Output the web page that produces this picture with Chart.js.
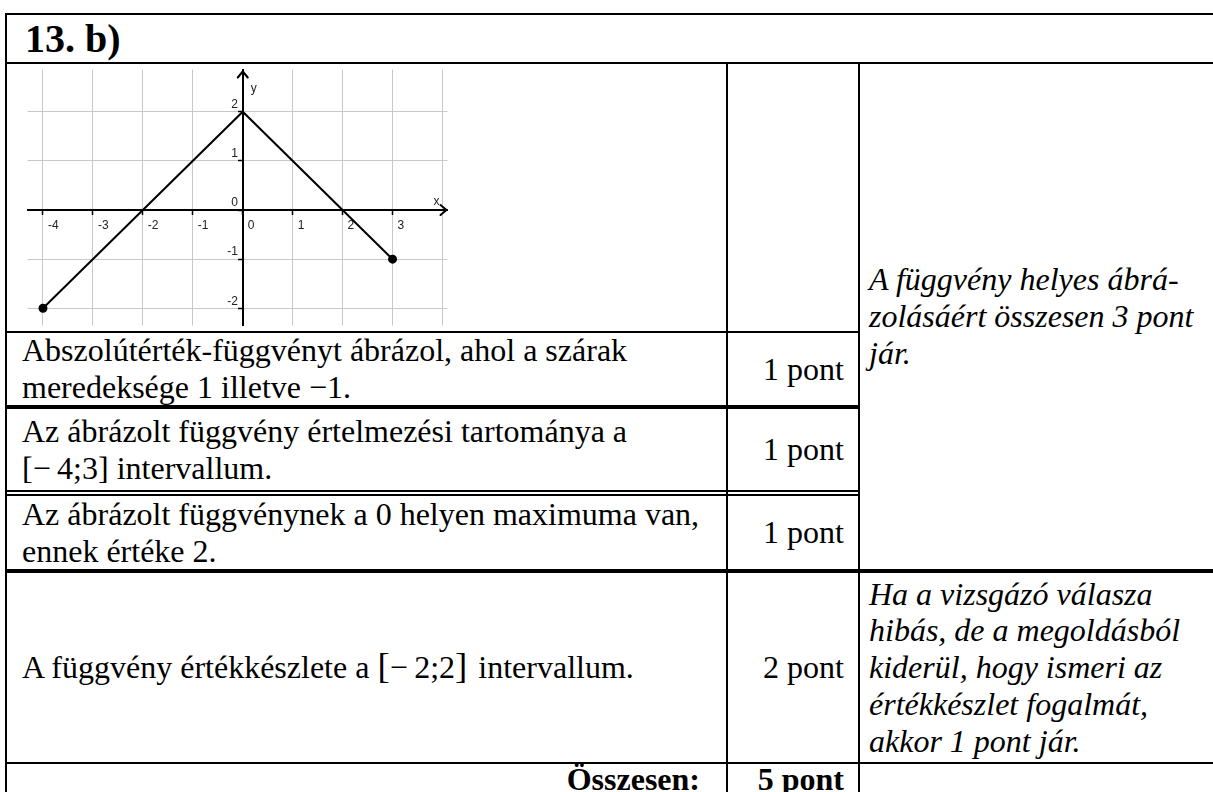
<!DOCTYPE html>
<html lang="hu">
<head>
<meta charset="utf-8">
<title>13. b)</title>
<script src="https://cdn.jsdelivr.net/npm/chart.js@4.4.1/dist/chart.umd.min.js"></script>
<style>
  html, body { margin: 0; padding: 0; background: #fff; }
  body {
    width: 1213px; height: 792px; position: relative; overflow: hidden;
    font-family: "Liberation Serif", "Times New Roman", serif;
    font-size: 32px; line-height: 1.15; color: #000;
  }
  .ln { position: absolute; background: #000; }
  .cell { position: absolute; display: flex; flex-direction: column; justify-content: center; box-sizing: border-box; white-space: nowrap; }
  .c1 { left: 7px; width: 719px; padding-left: 15px; }
  .c2 { left: 728px; width: 130px; padding-right: 14px; align-items: flex-end; }
  .c3 { left: 860px; width: 353px; padding-left: 9px; font-style: italic; }
  .right { align-items: flex-end; padding-right: 26px; }
  .bold { font-weight: bold; }
  .iv { margin: 0 3px 0 8px; }
  .iv .br { font-size: 1.15em; line-height: 0; }
  #head { left: 7px; top: 15px; height: 47px; padding-left: 18px; font-size: 40px; font-weight: bold; }
  #chartBox { position: absolute; left: 22px; top: 64px; width: 431px; height: 267px; }
</style>
</head>
<body>

<!-- table lines -->
<div class="ln" style="left:5px; top:13px; width:1210px; height:2px"></div>
<div class="ln" style="left:5px; top:13px; width:2px; height:779px"></div>
<div class="ln" style="left:5px; top:62px; width:1210px; height:2px"></div>
<div class="ln" style="left:726px; top:62px; width:2px; height:730px"></div>
<div class="ln" style="left:858px; top:62px; width:2px; height:730px"></div>
<div class="ln" style="left:5px; top:331px; width:855px; height:2px"></div>
<div class="ln" style="left:5px; top:405px; width:855px; height:4px"></div>
<div class="ln" style="left:5px; top:490px; width:855px; height:2px"></div>
<div class="ln" style="left:5px; top:494px; width:855px; height:2px"></div>
<div class="ln" style="left:5px; top:569px; width:1210px; height:4px"></div>
<div class="ln" style="left:5px; top:762px; width:1210px; height:2px"></div>

<div class="cell" id="head">13. b)</div>

<div id="chartBox"><canvas id="graph"></canvas></div>

<div class="cell c1" style="top:333px; height:72px">
  <div>Abszolútérték-függvényt ábrázol, ahol a szárak</div>
  <div>meredeksége 1 illetve −1.</div>
</div>
<div class="cell c2" style="top:333px; height:72px">1 pont</div>

<div class="cell c1" style="top:409px; height:81px">
  <div>Az ábrázolt függvény értelmezési tartománya a</div>
  <div>[−&#8201;4;3] intervallum.</div>
</div>
<div class="cell c2" style="top:409px; height:81px">1 pont</div>

<div class="cell c1" style="top:496px; height:73px">
  <div>Az ábrázolt függvénynek a 0 helyen maximuma van,</div>
  <div>ennek értéke 2.</div>
</div>
<div class="cell c2" style="top:496px; height:73px">1 pont</div>

<div class="cell c3" style="top:64px; height:505px">
  <div>A függvény helyes ábrá-</div>
  <div>zolásáért összesen 3 pont</div>
  <div>jár.</div>
</div>

<div class="cell c1" style="top:573px; height:189px">
  <div>A függvény értékkészlete a<span class="iv"><span class="br">[</span>−&#8201;2;2<span class="br">]</span></span> intervallum.</div>
</div>
<div class="cell c2" style="top:573px; height:189px">2 pont</div>
<div class="cell c3" style="top:573px; height:189px">
  <div>Ha a vizsgázó válasza</div>
  <div>hibás, de a megoldásból</div>
  <div>kiderül, hogy ismeri az</div>
  <div>értékkészlet fogalmát,</div>
  <div>akkor 1 pont jár.</div>
</div>

<div class="cell c1 right bold" style="top:761px; height:36px">Összesen:</div>
<div class="cell c2 bold" style="top:761px; height:36px">5 pont</div>

<script>
// graph data: f(x) = 2 - |x| on [-4; 3]
const xValues = [-4, 0, 3];
const yValues = [-2, 2, -1];

const xTickValues = [-4, -3, -2, -1, 0, 1, 2, 3, 4];
const xTickLabels = ['-4', '-3', '-2', '-1', '0', '1', '2', '3', ''];
const yTickValues = [-2, -1, 0, 1, 2];
const yTickLabels = ['-2', '-1', '0', '1', '2'];
const axisNames = ['x', 'y'];

const xRange = [-4.31, 4.1];
const yRange = [-2.35, 2.86];

const points = xValues.map((x, i) => ({ x: x, y: yValues[i] }));
const tickFont = { family: '"Liberation Sans", Arial, sans-serif', size: 12 };

function noPadding(scale) {
    scale.paddingTop = 0;
    scale.paddingBottom = 0;
    scale.paddingLeft = 0;
    scale.paddingRight = 0;
}

// arrow heads and axis names
const axisArrows = {
    id: 'axisArrows',
    afterDraw(chart) {
        const { ctx, chartArea, scales } = chart;
        const x0 = scales.x.getPixelForValue(0);
        const y0 = scales.y.getPixelForValue(0);
        ctx.save();
        ctx.strokeStyle = '#000';
        ctx.lineWidth = 2;
        ctx.lineCap = 'round';
        ctx.lineJoin = 'round';
        ctx.beginPath();
        ctx.moveTo(chartArea.right - 7, y0 - 5);
        ctx.lineTo(chartArea.right - 1, y0);
        ctx.lineTo(chartArea.right - 7, y0 + 5);
        ctx.moveTo(x0 - 5, chartArea.top + 8);
        ctx.lineTo(x0, chartArea.top + 2);
        ctx.lineTo(x0 + 5, chartArea.top + 8);
        ctx.stroke();
        ctx.fillStyle = '#222';
        ctx.font = '12px "Liberation Sans", Arial, sans-serif';
        ctx.textAlign = 'center';
        ctx.textBaseline = 'middle';
        ctx.fillText(axisNames[0], chartArea.right - 11, y0 - 8);
        ctx.fillText(axisNames[1], x0 + 11, chartArea.top + 19);
        ctx.restore();
    }
};

document.addEventListener('DOMContentLoaded', function() {
    const ctx = document.getElementById('graph').getContext('2d');
    new Chart(ctx, {
        type: 'scatter',
        data: {
            datasets: [{
                data: points,
                showLine: true,
                borderColor: '#000',
                borderWidth: 2,
                backgroundColor: '#000',
                pointRadius: c => (c.dataIndex === 0 || c.dataIndex === points.length - 1) ? 3.5 : 0,
                pointHoverRadius: 0,
                clip: false
            }]
        },
        options: {
            responsive: true,
            maintainAspectRatio: false,
            animation: false,
            layout: { padding: 0 },
            plugins: {
                legend: { display: false },
                tooltip: { enabled: false }
            },
            scales: {
                x: {
                    type: 'linear',
                    min: xRange[0],
                    max: xRange[1],
                    position: { y: 0 },
                    afterBuildTicks: s => { s.ticks = xTickValues.map(v => ({ value: v })); },
                    afterFit: noPadding,
                    grid: {
                        color: '#c8c8c8',
                        lineWidth: 1,
                        tickLength: 4,
                        tickWidth: 1.5,
                        tickColor: c => (c.index !== undefined && xTickLabels[c.index] === '') ? 'rgba(0,0,0,0)' : '#000'
                    },
                    border: { color: '#000', width: 2 },
                    ticks: {
                        autoSkip: false,
                        maxRotation: 0,
                        align: 'start',
                        labelOffset: 5,
                        padding: 4,
                        color: '#222',
                        font: tickFont,
                        callback: (v, i) => xTickLabels[i]
                    }
                },
                y: {
                    type: 'linear',
                    min: yRange[0],
                    max: yRange[1],
                    position: { x: 0 },
                    afterBuildTicks: s => { s.ticks = yTickValues.map(v => ({ value: v })); },
                    afterFit: noPadding,
                    grid: {
                        color: '#c8c8c8',
                        lineWidth: 1,
                        tickLength: 4,
                        tickWidth: 1.5,
                        tickColor: '#000'
                    },
                    border: { color: '#000', width: 2 },
                    ticks: {
                        autoSkip: false,
                        labelOffset: -7,
                        padding: 3,
                        color: '#222',
                        font: tickFont,
                        // keep the labels clear of the axis line
                        callback: (v, i) => yTickLabels[i] + '\u2009\u2009'
                    }
                }
            }
        },
        plugins: [axisArrows]
    });
});
</script>
</body>
</html>
